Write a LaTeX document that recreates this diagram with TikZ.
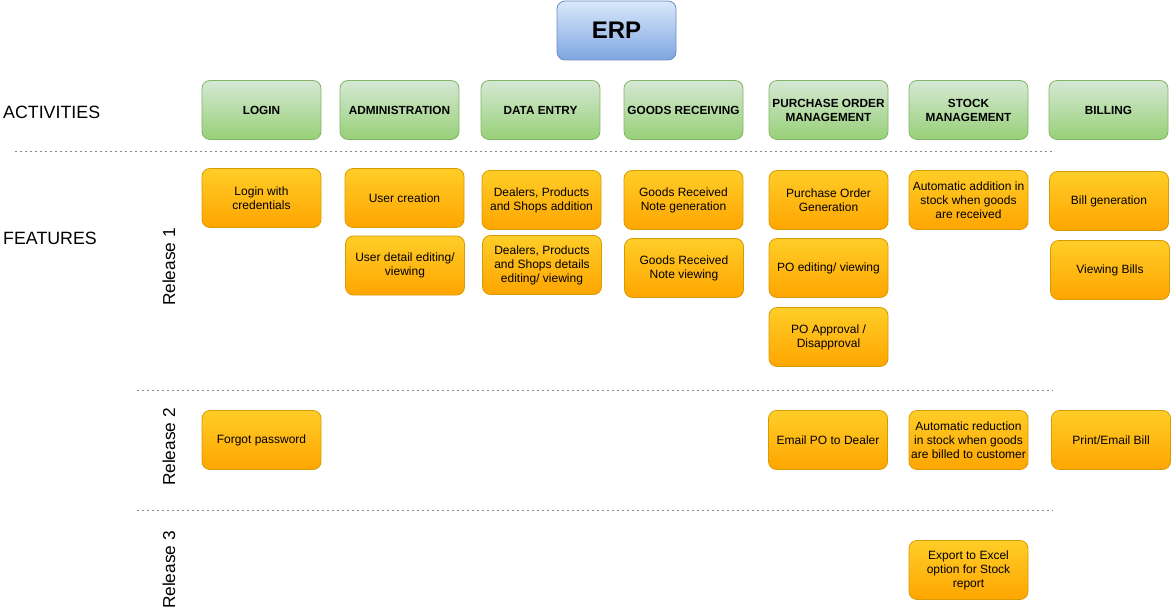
\documentclass[tikz,border=0pt]{standalone}
\usepackage{fontspec}
\setmainfont{Liberation Sans}

\definecolor{erptop}{HTML}{DAE8FC}
\definecolor{erpbot}{HTML}{7EA6E0}
\definecolor{erpline}{HTML}{6C8EBF}
\definecolor{acttop}{HTML}{D5E8D4}
\definecolor{actbot}{HTML}{97D077}
\definecolor{actline}{HTML}{82B366}
\definecolor{feattop}{HTML}{FFCD28}
\definecolor{featbot}{HTML}{FFA500}
\definecolor{featline}{HTML}{D79B00}
\definecolor{sepline}{HTML}{888888}

\begin{document}
\begin{tikzpicture}[
  x = 1pt, y = -1pt,
  erp/.style = {draw=erpline, top color=erptop, bottom color=erpbot, rounded corners=8pt,
                line width=0.8pt, minimum width=119pt, minimum height=59pt,
                font=\fontsize{24}{28}\selectfont\bfseries},
  activity/.style = {draw=actline, top color=acttop, bottom color=actbot, rounded corners=8pt,
                line width=0.8pt, minimum width=119pt, minimum height=59pt, inner sep=1pt,
                align=center, font=\fontsize{11.8}{14}\selectfont\bfseries},
  feature/.style = {draw=featline, top color=feattop, bottom color=featbot, rounded corners=8pt,
                line width=0.8pt, minimum width=119pt, minimum height=59pt, inner sep=1pt,
                align=center, font=\fontsize{12}{14}\selectfont},
  heading/.style = {anchor=west, inner sep=0pt, font=\fontsize{17.8}{20}\selectfont},
  release/.style = {rotate=90, inner sep=0pt, font=\fontsize{17.3}{20}\selectfont},
  separator/.style = {draw=sepline, line width=0.8pt, dash pattern=on 2pt off 3pt},
  ]
  \useasboundingbox (0,0) rectangle (1173,615);

  \node[erp] (erp) at (616.5,30.5) {ERP};

  \node[heading] (activities) at (3,112) {ACTIVITIES};
  \node[heading] (features) at (3,238) {FEATURES};

  \node[activity] (login) at (261.5,110) {LOGIN};
  \node[activity] (admin) at (399.5,110) {ADMINISTRATION};
  \node[activity] (data) at (540.5,110) {DATA ENTRY};
  \node[activity] (goods) at (683.5,110) {GOODS RECEIVING};
  \node[activity] (po) at (828.5,110) {PURCHASE ORDER\\MANAGEMENT};
  \node[activity] (stock) at (968.5,110) {STOCK\\MANAGEMENT};
  \node[activity] (billing) at (1108.5,110) {BILLING};

  \draw[separator] (15,151) -- (1055,151);
  \draw[separator] (137,390) -- (1053,390);
  \draw[separator] (137,510) -- (1053,510);

  \node[release] (rel1) at (169,267) {Release 1};
  \node[release] (rel2) at (169,447) {Release 2};
  \node[release] (rel3) at (169,570) {Release 3};

  \node[feature] (login1) at (261.5,198) {Login with\\credentials};
  \node[feature] (admin1) at (404.5,198) {User creation};
  \node[feature] (admin2) at (405,265.5) {User detail editing/\\viewing};
  \node[feature] (data1) at (541.5,200) {Dealers, Products\\and Shops addition};
  \node[feature] (data2) at (542,265) {Dealers, Products\\and Shops details\\editing/ viewing};
  \node[feature] (goods1) at (683.5,200) {Goods Received\\Note generation};
  \node[feature] (goods2) at (684,268) {Goods Received\\Note viewing};
  \node[feature] (po1) at (828.5,200) {Purchase Order\\Generation};
  \node[feature] (po2) at (828.5,268) {PO editing/ viewing};
  \node[feature] (po3) at (828.5,337) {PO Approval /\\Disapproval};
  \node[feature] (stock1) at (968.5,200) {Automatic addition in\\stock when goods\\are received};
  \node[feature] (bill1) at (1109,201) {Bill generation};
  \node[feature] (bill2) at (1110,270) {Viewing Bills};

  \node[feature] (login2) at (261.5,440) {Forgot password};
  \node[feature] (po4) at (828,440) {Email PO to Dealer};
  \node[feature] (stock2) at (968.5,440) {Automatic reduction\\in stock when goods\\are billed to customer};
  \node[feature] (bill3) at (1111,440) {Print/Email Bill};

  \node[feature] (stock3) at (968.5,570) {Export to Excel\\option for Stock\\report};
\end{tikzpicture}
\end{document}
